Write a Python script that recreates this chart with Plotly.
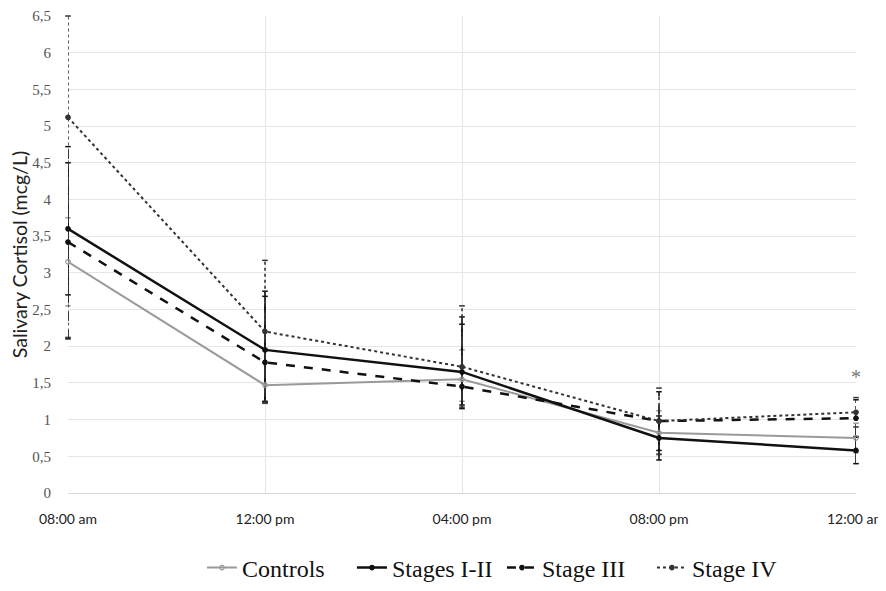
import plotly.graph_objects as go

times = ["08:00 am", "12:00 pm", "04:00 pm", "08:00 pm", "12:00 am"]

controls = [3.15, 1.47, 1.55, 0.82, 0.75]
stages_1_2 = [3.60, 1.95, 1.65, 0.75, 0.58]
stage_3 = [3.42, 1.78, 1.45, 0.98, 1.02]
stage_4 = [5.12, 2.20, 1.72, 0.98, 1.10]

# error bars (up / down)
controls_up = [0.6, 0.5, 0.4, 0.3, 0.2]
controls_dn = [0.6, 0.25, 0.3, 0.3, 0.2]
s12_up = [0.9, 0.8, 0.75, 0.3, 0.18]
s12_dn = [0.9, 0.7, 0.45, 0.3, 0.18]
s3_up = [1.3, 0.9, 0.85, 0.4, 0.25]
s3_dn = [1.32, 0.55, 0.3, 0.4, 0.25]
s4_up = [1.38, 0.97, 0.83, 0.45, 0.2]
s4_dn = [3.0, 0.97, 0.55, 0.45, 0.2]

star_time = ["12:00 am"]
star_val = [1.55]

series = [
    ("Controls", controls, controls_up, controls_dn, "#9a9a9a", "solid", 2, "circle-open"),
    ("Stages I-II", stages_1_2, s12_up, s12_dn, "#111111", "solid", 2.5, "circle"),
    ("Stage III", stage_3, s3_up, s3_dn, "#111111", "dash", 2.5, "circle"),
    ("Stage IV", stage_4, s4_up, s4_dn, "#333333", "dot", 2, "circle"),
]

fig = go.Figure()

# error bars drawn as vertical segments so they keep the line style
for name, vals, up, dn, color, dash, w, sym in series:
    ex, ey = [], []
    for t, v, u, d in zip(times, vals, up, dn):
        ex += [t, t, None]
        ey += [v - d, min(v + u, 6.5), None]
    fig.add_trace(go.Scatter(x=ex, y=ey, mode="lines+markers", showlegend=False,
                             line=dict(color=color, width=1.6, dash=dash),
                             marker=dict(symbol="line-ew-open", size=4,
                                         line=dict(color=color, width=1.5)),
                             hoverinfo="skip", cliponaxis=False))

for name, vals, up, dn, color, dash, w, sym in series:
    fig.add_trace(go.Scatter(
        x=times, y=vals, name=name, mode="lines+markers",
        line=dict(color=color, width=w, dash=dash),
        marker=dict(symbol=sym, size=4.5, color=color,
                    line=dict(color=color, width=1.2)),
        cliponaxis=False,
    ))

fig.add_trace(go.Scatter(x=star_time, y=star_val, mode="text", text=["*"],
                         textfont=dict(size=20, color="#777777", family="Liberation Serif"),
                         showlegend=False, cliponaxis=False))

# page body adds 8px margin, so the figure is a bit smaller than the window
fig.update_layout(
    width=878, height=583,
    paper_bgcolor="white", plot_bgcolor="white",
    margin=dict(l=60, r=30, t=8, b=98, autoexpand=False),
    separators=", ",
    showlegend=True,
    legend=dict(orientation="h", x=0.17, xanchor="left", y=-0.11, yanchor="top",
                font=dict(family="Liberation Serif", size=24, color="#111111"),
                traceorder="normal", itemwidth=30, entrywidth=105),
    xaxis=dict(
        type="category", range=[0, 4], automargin=False,
        showgrid=True, gridcolor="#e6e6e6", gridwidth=1,
        showline=True, linecolor="#d9d9d9", linewidth=1,
        ticks="", tickfont=dict(family="Lato", size=14, color="#222222"),
        ticklabelstandoff=13, ticklabeloverflow="allow",
    ),
    yaxis=dict(
        title=dict(text="Salivary Cortisol (mcg/L)", standoff=10,
                   font=dict(family="Lato", size=19.5, color="#222222")),
        range=[0, 6.5001], dtick=0.5, automargin=False,
        showgrid=True, gridcolor="#e6e6e6", gridwidth=1,
        zeroline=False, showline=False, ticks="",
        ticklabelstandoff=16, ticklabeloverflow="allow",
        tickfont=dict(family="Liberation Serif", size=15, color="#555555"),
    ),
)

fig.write_html("out.html")
